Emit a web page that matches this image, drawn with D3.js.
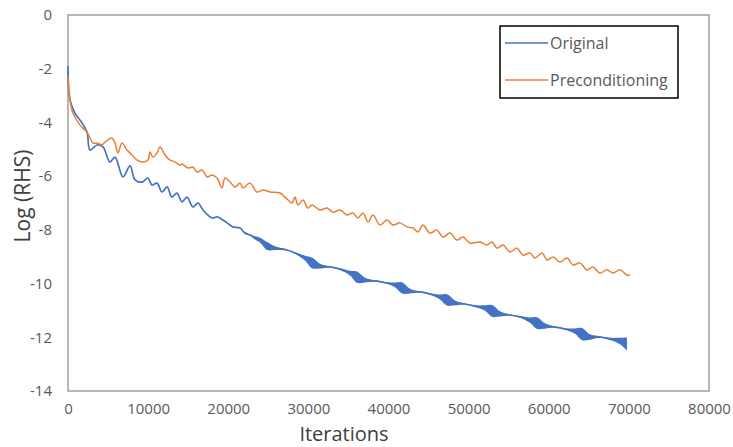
<!DOCTYPE html>
<html>
<head>
<meta charset="utf-8">
<script src="https://cdn.jsdelivr.net/npm/d3@7"></script>
<style>
body { margin: 0; background: #fff; }
text { font-family: "Open Sans", sans-serif; }
</style>
</head>
<body>
<svg id="chart"></svg>
<script>
let width = 733,
    height = 447;

// ticks
let xTicks = [0, 10000, 20000, 30000, 40000, 50000, 60000, 70000, 80000];
let yTicks = [0, -2, -4, -6, -8, -10, -12, -14];
let legendText = ["Original", "Preconditioning"];

// Original (blue)
let origIter = [0, 250, 870, 1750, 2370, 2750, 3620, 4370, 5240, 5870, 6860, 7740, 8360, 9240, 9980,
    10480, 11110, 11730, 12360, 12980, 13600, 14230, 14850, 15600, 16220, 16850, 17970, 18600, 19340,
    20220, 20590, 21470, 22090, 22710, 23340, 23960, 24840, 25830, 27330, 28330, 29580, 30450, 31450,
    32700, 33950, 35190, 36070, 37070, 38310, 39810, 40810, 41680, 42680, 43930, 45180, 46430, 47300,
    48300, 49550, 50790, 52040, 52920, 53910, 55160, 56410, 57660, 58530, 59530, 60780, 62030, 63270,
    64150, 65150, 66390, 67640, 68890, 69760];
let origLog = [-1.9, -3.16, -3.65, -4.02, -4.36, -5.03, -4.84, -4.91, -5.47, -5.29, -6.03, -5.62, -6.14, -6.22, -6.07,
    -6.33, -6.26, -6.59, -6.40, -6.78, -6.63, -6.96, -6.78, -7.15, -7.00, -7.26, -7.56, -7.52, -7.63,
    -7.82, -7.89, -7.93, -8.12, -8.19, -8.30, -8.38, -8.60, -8.68, -8.75, -8.86, -9.05, -9.23, -9.35,
    -9.38, -9.46, -9.61, -9.76, -9.87, -9.90, -9.98, -10.05, -10.16, -10.28, -10.31, -10.39, -10.50, -10.61,
    -10.72, -10.76, -10.84, -10.91, -11.02, -11.13, -11.17, -11.24, -11.36, -11.47, -11.58, -11.62, -11.69, -11.77,
    -11.88, -11.99, -11.99, -12.06, -12.14, -12.25];
// spread of the fast oscillation (the thick "bulges")
let origSpread = [0, 0, 0, 0, 0, 0, 0, 0, 0, 0, 0, 0, 0, 0, 0,
    0, 0, 0, 0, 0, 0, 0, 0, 0, 0, 0, 0, 0, 0,
    0, 0, 0, 0.03, 0.02, 0.06, 0.09, 0.15, 0.07, 0.02, 0.03, 0.09, 0.2, 0.09,
    0.02, 0.03, 0.09, 0.21, 0.09, 0.02, 0.03, 0.09, 0.21, 0.09, 0.02, 0.03, 0.09, 0.21,
    0.09, 0.02, 0.03, 0.1, 0.22, 0.1, 0.02, 0.03, 0.1, 0.22, 0.1, 0.02, 0.03, 0.1,
    0.23, 0.1, 0.03, 0.04, 0.12, 0.24];

// Preconditioning (orange)
let precIter = [0, 250, 620, 1500, 2370, 2750, 3120, 3740, 4240, 4620, 5490, 5870, 6240, 6740, 7360,
    7990, 8610, 9360, 9980, 10230, 10610, 11110, 11480, 12110, 12730, 13350, 13980, 14230, 14980,
    15600, 16100, 16720, 17350, 17970, 18600, 19220, 19590, 20220, 20840, 21470, 21840, 22710, 23590,
    24340, 25210, 26460, 27080, 27460, 27960, 28330, 28700, 29330, 29950, 30450, 31450, 32320, 33070,
    33950, 34820, 35570, 36190, 36820, 37440, 38060, 38940, 39810, 40560, 41430, 42310, 43060, 43680,
    44300, 45180, 46050, 46800, 47670, 48550, 49300, 50170, 51420, 52290, 52920, 53540, 54290, 55160,
    56040, 56780, 57660, 58280, 59160, 59780, 60530, 61400, 62280, 63020, 63900, 64770, 65520, 66390,
    67270, 68020, 68890, 69760, 70140];
let precLog = [-2.3, -3.16, -3.65, -4.10, -4.36, -4.58, -4.77, -4.77, -4.84, -4.73, -4.58, -4.77, -5.14, -4.77, -5.03,
    -5.21, -5.40, -5.47, -5.40, -5.10, -5.29, -5.14, -4.91, -5.21, -5.40, -5.47, -5.59, -5.55, -5.70,
    -5.66, -5.85, -5.77, -6.03, -5.96, -6.07, -6.44, -6.07, -6.22, -6.40, -6.26, -6.44, -6.26, -6.59,
    -6.52, -6.59, -6.63, -6.78, -6.89, -7.00, -6.78, -7.07, -6.89, -7.19, -7.07, -7.26, -7.19, -7.34,
    -7.26, -7.45, -7.37, -7.56, -7.37, -7.71, -7.45, -7.82, -7.63, -7.82, -7.74, -7.89, -7.93, -8.08,
    -7.82, -8.12, -8.01, -8.27, -8.12, -8.38, -8.27, -8.49, -8.45, -8.56, -8.45, -8.68, -8.56, -8.82,
    -8.68, -8.94, -8.86, -9.05, -8.86, -9.12, -9.01, -9.20, -9.05, -9.31, -9.23, -9.49, -9.38, -9.61,
    -9.49, -9.61, -9.49, -9.68, -9.68];

let blue = "#4472C4",
    orange = "#ED7D31";

let orig = origIter.map(function(d, i) { return {x: d, y: origLog[i], s: origSpread[i]}; });
let prec = precIter.map(function(d, i) { return {x: d, y: precLog[i]}; });

let x = d3.scaleLinear()
    .domain([0, 80000])
    .range([68, 709]);

let y = d3.scaleLinear()
    .domain([-14, 0])
    .range([391, 15]);

let svg = d3.select('#chart')
    .attr('width', width)
    .attr('height', height);

// axes (labels only, the frame is drawn as a rect)
svg.append('g')
    .attr('transform', 'translate(0,391)')
    .call(d3.axisBottom(x).tickValues(xTicks).tickSize(0).tickPadding(12)
        .tickFormat(function(d) { return String(d); }));

svg.append('g')
    .attr('transform', 'translate(68,0)')
    .call(d3.axisLeft(y).tickValues(yTicks).tickSize(0).tickPadding(16)
        .tickFormat(function(d) { return String(d); }));

svg.selectAll('.domain').remove();
svg.selectAll('.tick text')
    .style('font-size', '15px')
    .style('font-family', '"Open Sans", sans-serif')
    .style('fill', '#595959');

svg.append('rect')
    .attr('x', x(0))
    .attr('y', y(0))
    .attr('width', x(80000) - x(0))
    .attr('height', y(-14) - y(0))
    .style('fill', 'none')
    .style('stroke', '#a0a0a0')
    .style('stroke-width', 1.5);

// Original: thick oscillation band + line
let band = d3.area()
    .x(function(d) { return x(d.x); })
    .y0(function(d) { return y(d.y - d.s); })
    .y1(function(d) { return y(d.y + d.s); })
    .curve(d3.curveCatmullRom.alpha(0.5));

let line = d3.line()
    .x(function(d) { return x(d.x); })
    .y(function(d) { return y(d.y); })
    .curve(d3.curveCatmullRom.alpha(0.5));

svg.append('path')
    .datum(orig)
    .attr('d', band)
    .style('fill', blue);

svg.append('path')
    .datum(orig)
    .attr('d', line)
    .style('fill', 'none')
    .style('stroke', blue)
    .style('stroke-width', 1.7);

svg.append('path')
    .datum(prec)
    .attr('d', line)
    .style('fill', 'none')
    .style('stroke', orange)
    .style('stroke-width', 1.5);

// legend
let legend = svg.append('g');

legend.append('rect')
    .attr('x', 500)
    .attr('y', 26)
    .attr('width', 178)
    .attr('height', 72)
    .style('fill', '#fff')
    .style('stroke', '#000')
    .style('stroke-width', 1.5);

let items = legend.selectAll('g.item')
    .data(legendText)
    .enter()
    .append('g')
    .attr('class', 'item')
    .attr('transform', function(d, i) { return 'translate(505,' + (43 + i * 37) + ')'; });

items.append('line')
    .attr('x1', 0)
    .attr('x2', 43)
    .style('stroke', function(d, i) { return i === 0 ? blue : orange; })
    .style('stroke-width', 1.5);

items.append('text')
    .attr('x', 45)
    .attr('dy', '0.35em')
    .style('font-size', '16px')
    .style('fill', '#595959')
    .text(function(d) { return d; });

// axis titles
svg.append('text')
    .attr('x', 344)
    .attr('y', 441)
    .attr('text-anchor', 'middle')
    .style('font-size', '20px')
    .style('fill', '#404040')
    .text('Iterations');

svg.append('text')
    .attr('transform', 'translate(30,196) rotate(-90)')
    .attr('text-anchor', 'middle')
    .style('font-size', '21px')
    .style('fill', '#404040')
    .text('Log (RHS)');
</script>
</body>
</html>
